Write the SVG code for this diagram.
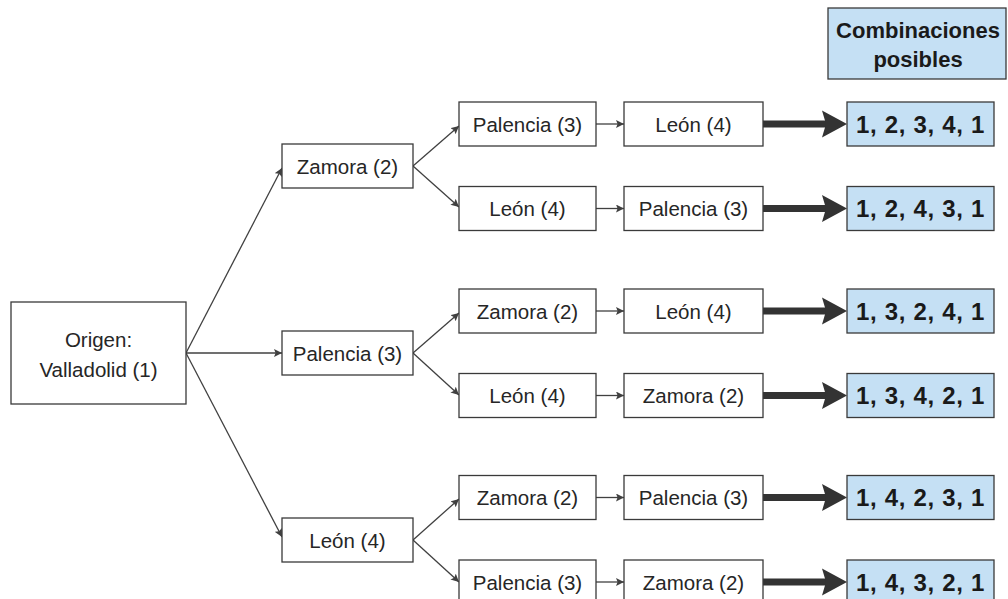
<svg xmlns="http://www.w3.org/2000/svg" width="1008" height="599" viewBox="0 0 1008 599">
<style>
.box{fill:#ffffff;stroke:#3a3a3a;stroke-width:1.3}
.res{fill:#c5e0f4;stroke:#3a3a3a;stroke-width:1.3}
.t{font-family:"Liberation Sans",Arial,sans-serif;font-size:20.5px;fill:#262626;text-anchor:middle}
.rt{font-family:"Liberation Sans",Arial,sans-serif;font-size:24px;font-weight:bold;fill:#1a1a1a;text-anchor:middle;letter-spacing:0.7px}
.ht{font-family:"Liberation Sans",Arial,sans-serif;font-size:22px;font-weight:bold;fill:#1a1a1a;text-anchor:middle}
.ln{stroke:#404040;stroke-width:1.3;fill:none;marker-end:url(#ah)}
.thick{stroke:#333333;stroke-width:7;fill:none}
.head{fill:#333333}
</style>
<defs>
<marker id="ah" viewBox="0 0 10 10" refX="10" refY="5" markerWidth="8" markerHeight="8" markerUnits="userSpaceOnUse" orient="auto">
<path d="M0,0 L10,5 L0,10 L2,5 Z" fill="#404040"/>
</marker>
</defs>
<rect width="1008" height="599" fill="#ffffff"/>

<g id="connectors">
<line class="ln" x1="186" y1="353" x2="282" y2="168"/>
<line class="ln" x1="186" y1="353" x2="282" y2="353"/>
<line class="ln" x1="186" y1="353" x2="282" y2="537"/>
<line class="ln" x1="413" y1="166" x2="459" y2="126"/>
<line class="ln" x1="413" y1="166" x2="459" y2="207"/>
<line class="ln" x1="413" y1="353" x2="459" y2="313"/>
<line class="ln" x1="413" y1="353" x2="459" y2="395"/>
<line class="ln" x1="413" y1="540" x2="459" y2="499"/>
<line class="ln" x1="413" y1="540" x2="459" y2="582"/>
<line class="ln" x1="596" y1="124" x2="624" y2="124"/>
<line class="ln" x1="596" y1="208.5" x2="624" y2="208.5"/>
<line class="ln" x1="596" y1="311" x2="624" y2="311"/>
<line class="ln" x1="596" y1="395.5" x2="624" y2="395.5"/>
<line class="ln" x1="596" y1="497.5" x2="624" y2="497.5"/>
<line class="ln" x1="596" y1="582" x2="624" y2="582"/>
<line class="thick" x1="763" y1="124" x2="826" y2="124"/>
<polygon class="head" points="822,110.5 847,124 822,137.5 826,124"/>
<line class="thick" x1="763" y1="208.5" x2="826" y2="208.5"/>
<polygon class="head" points="822,195 847,208.5 822,222 826,208.5"/>
<line class="thick" x1="763" y1="311" x2="826" y2="311"/>
<polygon class="head" points="822,297.5 847,311 822,324.5 826,311"/>
<line class="thick" x1="763" y1="395.5" x2="826" y2="395.5"/>
<polygon class="head" points="822,382 847,395.5 822,409 826,395.5"/>
<line class="thick" x1="763" y1="497.5" x2="826" y2="497.5"/>
<polygon class="head" points="822,484 847,497.5 822,511 826,497.5"/>
<line class="thick" x1="763" y1="582" x2="826" y2="582"/>
<polygon class="head" points="822,568.5 847,582 822,595.5 826,582"/>
</g>

<g id="header"><rect class="res" x="828" y="8" width="178" height="71"/><text class="ht" x="918" y="38">Combinaciones</text><text class="ht" x="918" y="67">posibles</text></g>

<g id="origen"><rect class="box" x="11" y="302" width="175" height="102"/><text class="t" x="98.5" y="347">Origen:</text><text class="t" x="98.5" y="377">Valladolid (1)</text></g>

<g id="l1-zamora"><rect class="box" x="282" y="144" width="131" height="44"/><text class="t" x="347.5" y="173.5">Zamora (2)</text></g>
<g id="l1-palencia"><rect class="box" x="282" y="331" width="131" height="44"/><text class="t" x="347.5" y="360.5">Palencia (3)</text></g>
<g id="l1-leon"><rect class="box" x="282" y="518" width="131" height="44"/><text class="t" x="347.5" y="547.5">León (4)</text></g>

<g id="r1-a"><rect class="box" x="459" y="102" width="137" height="44"/><text class="t" x="527.5" y="131.5">Palencia (3)</text></g>
<g id="r1-b"><rect class="box" x="624" y="102" width="139" height="44"/><text class="t" x="693.5" y="131.5">León (4)</text></g>
<g id="r1-res"><rect class="res" x="847" y="102" width="147" height="44"/><text class="rt" x="920.5" y="132.5">1, 2, 3, 4, 1</text></g>

<g id="r2-a"><rect class="box" x="459" y="186.5" width="137" height="44"/><text class="t" x="527.5" y="216">León (4)</text></g>
<g id="r2-b"><rect class="box" x="624" y="186.5" width="139" height="44"/><text class="t" x="693.5" y="216">Palencia (3)</text></g>
<g id="r2-res"><rect class="res" x="847" y="186.5" width="147" height="44"/><text class="rt" x="920.5" y="217">1, 2, 4, 3, 1</text></g>

<g id="r3-a"><rect class="box" x="459" y="289" width="137" height="44"/><text class="t" x="527.5" y="318.5">Zamora (2)</text></g>
<g id="r3-b"><rect class="box" x="624" y="289" width="139" height="44"/><text class="t" x="693.5" y="318.5">León (4)</text></g>
<g id="r3-res"><rect class="res" x="847" y="289" width="147" height="44"/><text class="rt" x="920.5" y="319.5">1, 3, 2, 4, 1</text></g>

<g id="r4-a"><rect class="box" x="459" y="373.5" width="137" height="44"/><text class="t" x="527.5" y="403">León (4)</text></g>
<g id="r4-b"><rect class="box" x="624" y="373.5" width="139" height="44"/><text class="t" x="693.5" y="403">Zamora (2)</text></g>
<g id="r4-res"><rect class="res" x="847" y="373.5" width="147" height="44"/><text class="rt" x="920.5" y="404">1, 3, 4, 2, 1</text></g>

<g id="r5-a"><rect class="box" x="459" y="475.5" width="137" height="44"/><text class="t" x="527.5" y="505">Zamora (2)</text></g>
<g id="r5-b"><rect class="box" x="624" y="475.5" width="139" height="44"/><text class="t" x="693.5" y="505">Palencia (3)</text></g>
<g id="r5-res"><rect class="res" x="847" y="475.5" width="147" height="44"/><text class="rt" x="920.5" y="506">1, 4, 2, 3, 1</text></g>

<g id="r6-a"><rect class="box" x="459" y="560" width="137" height="44"/><text class="t" x="527.5" y="589.5">Palencia (3)</text></g>
<g id="r6-b"><rect class="box" x="624" y="560" width="139" height="44"/><text class="t" x="693.5" y="589.5">Zamora (2)</text></g>
<g id="r6-res"><rect class="res" x="847" y="560" width="147" height="44"/><text class="rt" x="920.5" y="590.5">1, 4, 3, 2, 1</text></g>
</svg>
